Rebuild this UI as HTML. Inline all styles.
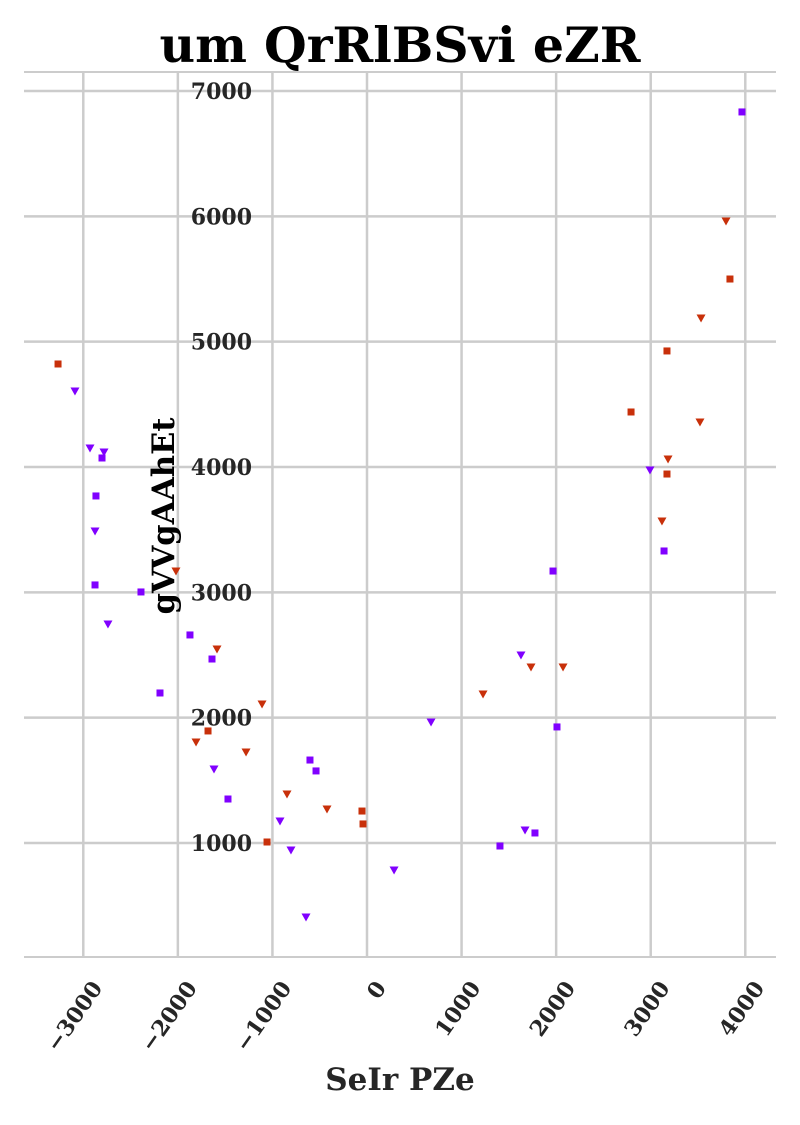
<!DOCTYPE html>
<html><head><meta charset="utf-8"><style>
html,body{margin:0;padding:0;background:#fff}
text{font-family:"DejaVu Serif","Liberation Serif",serif;font-weight:bold;fill:#262626}
</style></head><body>
<svg id="chart" width="800" height="1120" xmlns="http://www.w3.org/2000/svg">
<text x="400" y="62" text-anchor="middle" font-size="49" style="fill:#000">um QrRlBSvi eZR</text>
<g id="grid"></g>
<g id="marks"></g>
<text x="400" y="1090" text-anchor="middle" font-size="31">SeIr PZe</text>
<text transform="translate(174,516) rotate(-90)" text-anchor="middle" font-size="30.5" style="fill:#000">gVVgAAhEt</text>
</svg>
<script>
const xTicks=[-3000,-2000,-1000,0,1000,2000,3000,4000];
const xTickLabels=["\u22123000","\u22122000","\u22121000","0","1000","2000","3000","4000"];
const yTicks=[1000,2000,3000,4000,5000,6000,7000];
const yTickLabels=["1000","2000","3000","4000","5000","6000","7000"];
const redSqX=[-3267,-1681,-1057,-53,-42,2792,3172,3172,3838];
const redSqY=[4822,1894,1008,1255,1152,4439,4926,3944,5500];
const redTriX=[-2020,-1586,-1808,-1110,-1279,-846,-423,1227,1734,2073,3119,3183,3521,3532,3796];
const redTriY=[3170,2548,1806,2109,1726,1391,1271,2189,2404,2404,3569,4064,4359,5189,5963];
const purSqX=[3965,-2802,-2866,-2876,-2390,-2189,-1872,-1639,-1470,-603,-539,1406,1776,1967,2009,3141];
const purSqY=[6833,4072,3769,3059,3003,2197,2660,2468,1351,1662,1575,976,1080,3170,1926,3330];
const purTriX=[-3088,-2929,-2781,-2876,-2739,-1618,-920,-804,-645,286,677,1628,1671,2992];
const purTriY=[4606,4152,4120,3489,2747,1590,1176,944,410,785,1965,2500,1104,3976];
const X=v=>367+v*0.09457, Y=v=>843-(v-1000)*0.12533;
const NS="http://www.w3.org/2000/svg";
const g=document.getElementById('grid'), m=document.getElementById('marks');
function mk(t,a,p){const e=document.createElementNS(NS,t);for(const k in a)e.setAttribute(k,a[k]);p.appendChild(e);return e;}
[72,957].forEach((y,i)=>{const l=mk('line',{x1:24,x2:776,y1:y,y2:y,stroke:'#cccccc','stroke-width':2},g);

});
xTicks.forEach((v,i)=>{const l=mk('line',{x1:X(v),x2:X(v),y1:72,y2:957,stroke:'#cccccc','stroke-width':2.5},g);


const t=mk('text',{'font-size':22,'text-anchor':'end',transform:`translate(${X(v)+20},${988}) rotate(-55)`},g);t.textContent=xTickLabels[i];

});
yTicks.forEach((v,i)=>{const l=mk('line',{x1:24,x2:776,y1:Y(v),y2:Y(v),stroke:'#cccccc','stroke-width':2.5},g);


const t=mk('text',{'font-size':22,'text-anchor':'end',x:252,y:Y(v)+8},g);t.textContent=yTickLabels[i];

});
function sq(xs,ys,c,name){xs.forEach((x,i)=>{const e=mk('rect',{x:X(x)-3.5,y:Y(ys[i])-3.5,width:7,height:7,fill:c},m);

});}
function tri(xs,ys,c,name){xs.forEach((x,i)=>{const cx=X(x),cy=Y(ys[i]);const e=mk('polygon',{points:`${cx-4.5},${cy-3.5} ${cx+4.5},${cy-3.5} ${cx},${cy+4.5}`,fill:c},m);

});}
sq(redSqX,redSqY,'#c8300a','red-square-point');
tri(redTriX,redTriY,'#c8300a','red-triangle-point');
sq(purSqX,purSqY,'#8000ff','purple-square-point');
tri(purTriX,purTriY,'#8000ff','purple-triangle-point');
</script>
</body></html>
